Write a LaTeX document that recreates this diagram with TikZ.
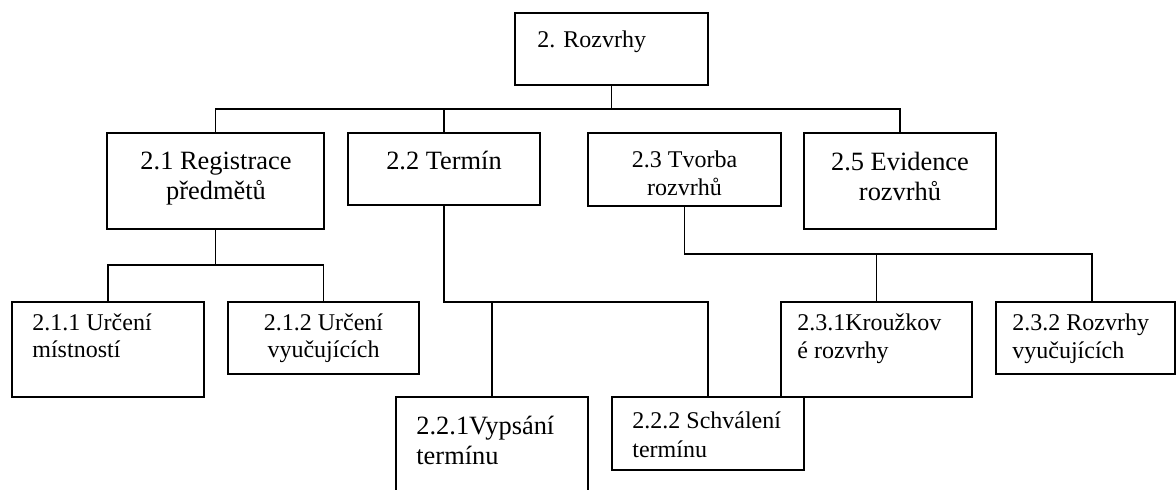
\documentclass[tikz,border=0pt]{standalone}
\usepackage{fontspec}
\setmainfont{Liberation Serif}
\usetikzlibrary{fit}
\tikzset{
  box/.style={draw, line width=0.6pt, inner sep=0pt, rectangle},
  conn/.style={draw, line width=0.6pt},
  big/.style={inner sep=0pt, font=\fontsize{13.2}{15}\selectfont},
  small/.style={inner sep=0pt, font=\fontsize{12}{14}\selectfont}
}
\begin{document}
\begin{tikzpicture}[x=0.5pt, y=-0.5pt]
\clip (0,0) rectangle (1176,489);
\fill[white] (0,0) rectangle (1176,489);
% boxes
\node[box, fit={(515,13) (708,85)}] (root) {};
\node[box, fit={(107,133) (324,229)}] (b21) {};
\node[box, fit={(348,133) (540,205)}] (b22) {};
\node[box, fit={(588,133) (781,206)}] (b23) {};
\node[box, fit={(804,133) (996,229)}] (b25) {};
\node[box, fit={(12,302) (204,397)}] (b211) {};
\node[box, fit={(228,302) (419,374)}] (b212) {};
\node[box, fit={(396,397) (588,530)}] (b221) {};
\node[box, fit={(612,397) (804,470)}] (b222) {};
\node[box, fit={(781,302) (972,397)}] (b231) {};
\node[box, fit={(996,302) (1175,374)}] (b232) {};
% texts
\node[small, anchor=base west] (t0) at (537,47) {2. Rozvrhy};
\node[big, anchor=base] (t21a) at (216,169) {2.1 Registrace};
\node[big, anchor=base] (t21b) at (216,199) {předmětů};
\node[big, anchor=base] (t22a) at (444,169) {2.2 Termín};
\node[small, anchor=base] (t23a) at (684.5,167) {2.3 Tvorba};
\node[small, anchor=base] (t23b) at (684.5,195) {rozvrhů};
\node[big, anchor=base] (t25a) at (900,170) {2.5 Evidence};
\node[big, anchor=base] (t25b) at (900,200) {rozvrhů};
\node[small, anchor=base west] (t211a) at (32,330) {2.1.1 Určení};
\node[small, anchor=base west] (t211b) at (32,357) {místností};
\begin{scope}
\clip (228,302) rectangle (419,363);
\node[small, anchor=base] (t212a) at (323.5,330) {2.1.2 Určení};
\node[small, anchor=base] (t212b) at (323.5,357) {vyučujících};
\end{scope}
\node[big, anchor=base west] (t221a) at (416,434) {2.2.1Vypsání};
\node[big, anchor=base west] (t221b) at (416,464) {termínu};
\node[small, anchor=base west] (t222a) at (632,428) {2.2.2 Schválení};
\node[small, anchor=base west] (t222b) at (632,457) {termínu};
\node[small, anchor=base west] (t231a) at (797,330) {2.3.1Kroužkov};
\node[small, anchor=base west] (t231b) at (797,358) {é rozvrhy};
\begin{scope}
\clip (996,302) rectangle (1175,363);
\node[small, anchor=base west] (t232a) at (1012,330) {2.3.2 Rozvrhy};
\node[small, anchor=base west] (t232b) at (1012,358) {vyučujících};
\end{scope}
% connectors
\coordinate (h1) at (0,109);
\coordinate (h2) at (0,265);
\coordinate (h3) at (0,302);
\coordinate (h4) at (0,254);
\coordinate (c232) at (1092,302);
\draw[conn] (root.south) -- (root.south |- h1);
\draw[conn] (b21.north) |- (h1 -| b25.north) -- (b25.north);
\draw[conn] (b22.north) -- (b22.north |- h1);
\draw[conn] (b21.south) -- (b21.south |- h2);
\draw[conn] (b211.north) |- (h2 -| b212.north) -- (b212.north);
\draw[conn] (b22.south) |- (h3 -| b222.north) -- (b222.north);
\draw[conn] (b221.north) -- (b221.north |- h3);
\draw[conn] (b23.south) |- (h4 -| c232) -- (c232);
\draw[conn] (b231.north) -- (b231.north |- h4);
\end{tikzpicture}
\end{document}
